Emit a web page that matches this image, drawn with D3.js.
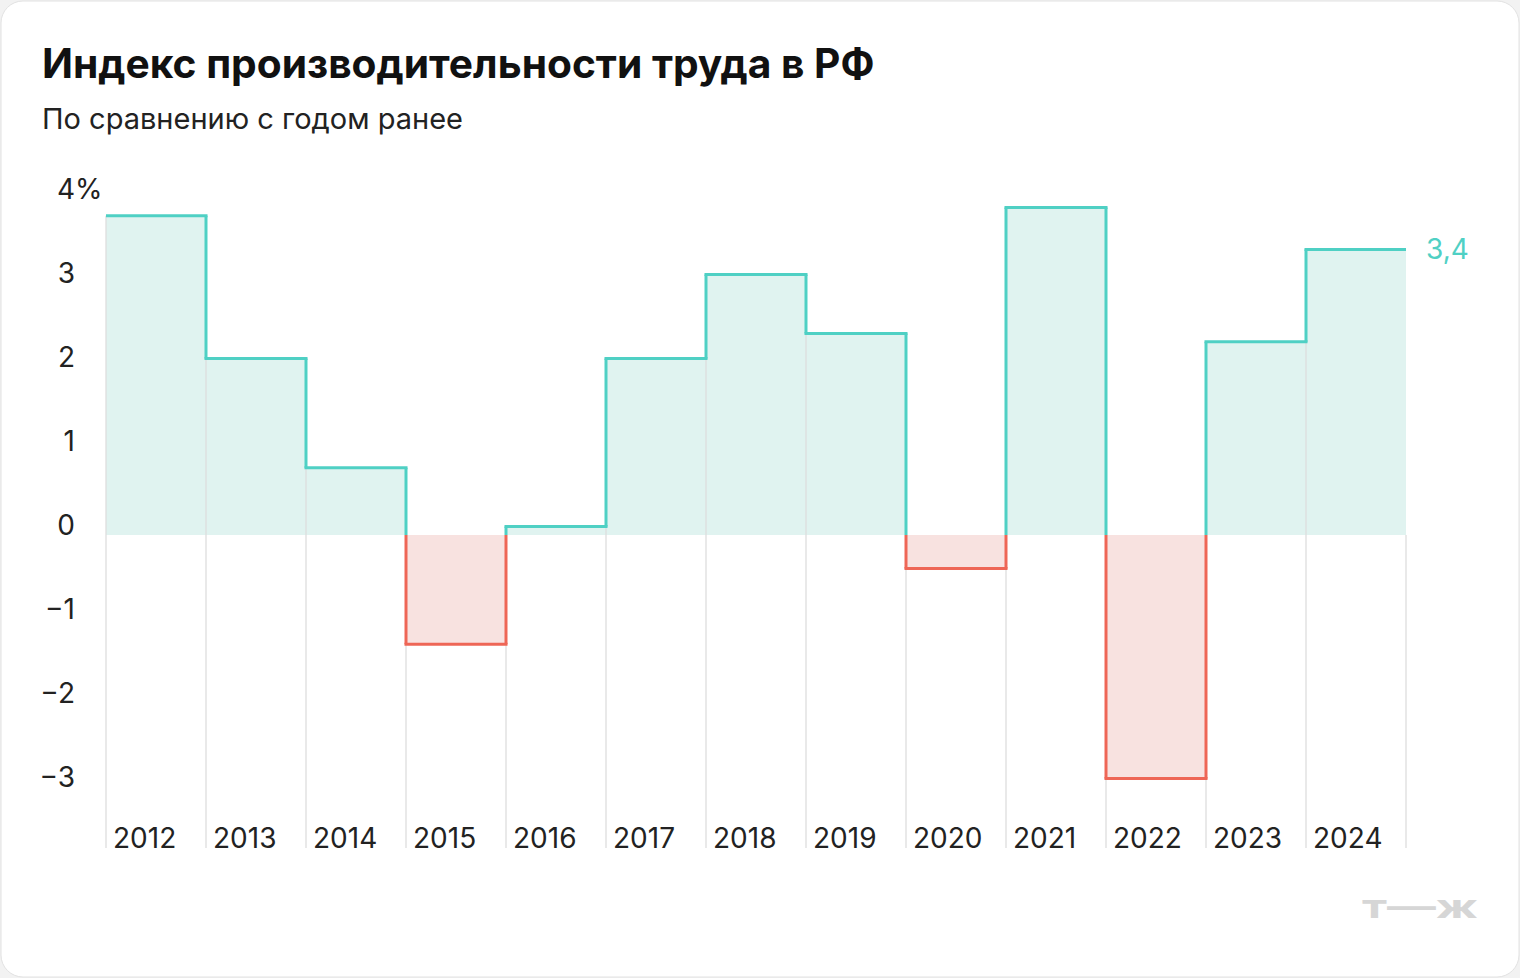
<!DOCTYPE html><html><head><meta charset="utf-8">
<script src="https://cdn.jsdelivr.net/npm/d3@7"></script>
<style>body{margin:0;background:#f2f2f2;font-family:Inter,"Noto Sans",sans-serif}</style></head>
<body><svg id="c" width="1520" height="978"></svg>
<script>
const years=["2012","2013","2014","2015","2016","2017","2018","2019","2020","2021","2022","2023","2024"];
const values=[3.8,2.1,0.8,-1.3,0.1,2.1,3.1,2.4,-0.4,3.9,-2.9,2.3,3.4];
const ticks=[4,3,2,1,0,-1,-2,-3];
const svg=d3.select("#c");
const pos="#4fd0c4",posF="#e0f3f0",neg="#ee6656",negF="#f8e2e0";
svg.append("rect").attr("x",1).attr("y",1).attr("width",1518).attr("height",976).attr("rx",22).attr("fill","#fff").attr("stroke","#e2e2e2");
svg.append("text").attr("x",42).attr("y",78).attr("font-size",40.7).attr("font-weight",700).attr("fill","#111").text("Индекс производительности труда в РФ");
svg.append("text").attr("x",42).attr("y",129).attr("font-size",29).attr("fill","#222").text("По сравнению с годом ранее");
const x=d3.scaleBand().domain(years).range([106,1406]).padding(0);
const y=d3.scaleLinear().domain([-3,4]).range([787,199]);
const y0=y(0);
values.forEach((v,i)=>{const yr=years[i];
 svg.append("rect").attr("x",x(yr)).attr("width",x.bandwidth()).attr("y",Math.min(y(v),y0)).attr("height",Math.abs(y(v)-y0)).attr("fill",v>=0?posF:negF);});
years.forEach((yr,i)=>{const xv=x(yr);const top=i==0?y0:Math.min(y0,y(values[i]),y(values[i-1]));
 svg.append("line").attr("x1",xv).attr("x2",xv).attr("y1",i==0?y(values[0]):top).attr("y2",848).attr("stroke","#dedede").attr("stroke-width",1.3);});
svg.append("line").attr("x1",1406).attr("x2",1406).attr("y1",y0).attr("y2",848).attr("stroke","#dedede").attr("stroke-width",1.3);
const sw=3;
values.forEach((v,i)=>{const yr=years[i];
 svg.append("line").attr("x1",x(yr)-(i?sw/2:0)).attr("x2",x(yr)+x.bandwidth()+(i<values.length-1?sw/2:0)).attr("y1",y(v)).attr("y2",y(v)).attr("stroke",v>=0?pos:neg).attr("stroke-width",sw);
 if(i>0){const a=values[i-1],b=v,xv=x(yr);
  const seg=(p,q,c)=>svg.append("line").attr("x1",xv).attr("x2",xv).attr("y1",y(p)).attr("y2",y(q)).attr("stroke",c).attr("stroke-width",sw);
  if(a*b>=0){seg(a,b,(a>=0&&b>=0)?pos:neg);} else {seg(a,0,a>0?pos:neg);seg(0,b,b>0?pos:neg);}
 }});
ticks.forEach(t=>{svg.append("text").attr("x",75).attr("y",y(t)).attr("font-size",28).attr("fill","#222").attr("text-anchor","end").text(t<0?"−"+(-t):t);
 if(t===4){svg.append("text").attr("x",75).attr("y",y(t)).attr("font-size",28).attr("fill","#222").text("%");}});
years.forEach(yr=>svg.append("text").attr("x",x(yr)+7).attr("y",848).attr("font-size",28).attr("fill","#222").text(yr));
svg.append("text").attr("x",1426).attr("y",y(3.4)+10).attr("font-size",28).attr("fill",pos).text("3,4");
svg.append("text").attr("x",1362).attr("y",918).attr("font-size",32).attr("font-weight",700).attr("fill","#d6d6d6").attr("textLength",116).attr("lengthAdjust","spacingAndGlyphs").text("т—ж");
</script></body></html>
